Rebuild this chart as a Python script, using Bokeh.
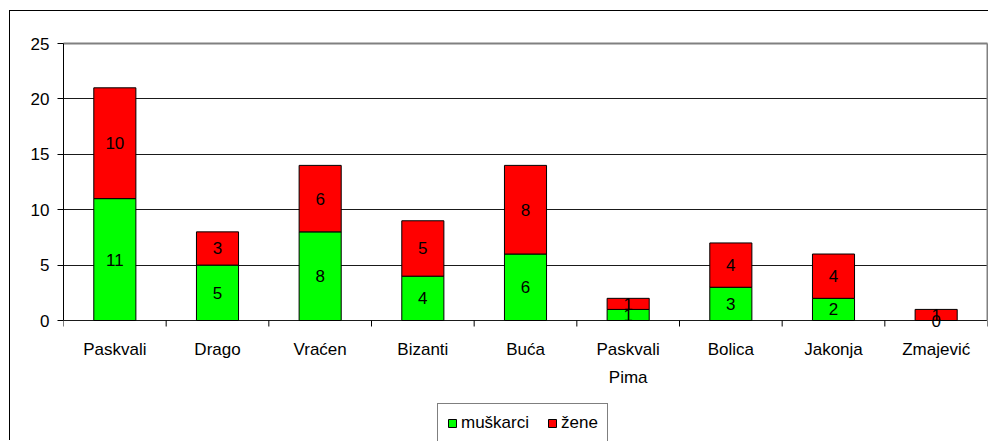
import math
from bokeh.plotting import figure
from bokeh.models import ColumnDataSource, FixedTicker, Legend, LegendItem, Range1d, LinearAxis
from bokeh.core.properties import value
from bokeh.embed import file_html
from bokeh.resources import INLINE

categories = ["Paskvali", "Drago", "Vraćen", "Bizanti", "Buća", "Paskvali\nPima", "Bolica", "Jakonja", "Zmajević"]
muskarci = [11, 5, 8, 4, 6, 1, 3, 2, 0]
zene = [10, 3, 6, 5, 8, 1, 4, 4, 1]
series_names = ["muškarci", "žene"]
y_ticks = [0, 5, 10, 15, 20, 25]

FONT = "Liberation Sans"
FS = "17px"
GREEN = "#00FF00"
RED = "#FF0000"

n = len(categories)
xs = [i + 0.5 for i in range(n)]
tops = [m + z for m, z in zip(muskarci, zene)]

src = ColumnDataSource(dict(
    x=xs, m=muskarci, z=zene, top=tops,
    m_lab=[str(v) for v in muskarci], z_lab=[str(v) for v in zene],
    m_y=[v / 2 for v in muskarci],
    z_y=[m + z / 2 for m, z in zip(muskarci, zene)],
    zero=[0] * n,
))
cat_src = ColumnDataSource(dict(x=xs, y=[0] * n, label=categories))
tick_src = ColumnDataSource(dict(x=list(range(n + 1)), y=[0] * (n + 1)))

# layout: frame top (value 25) at page y=43, value 0 at page y=320, frame bottom at page y=441
PX_PER_UNIT = (320 - 43) / 25.0
Y_BOTTOM = -(441 - 320) / PX_PER_UNIT

p = figure(width=979, height=430, x_range=Range1d(0, n), y_range=Range1d(Y_BOTTOM, 25),
           output_backend="svg", toolbar_location=None, x_axis_location=None,
           min_border_left=53, min_border_right=2, min_border_top=32, min_border_bottom=0)
p.styles = {"margin-left": "9px", "margin-top": "10px",
            "border-left": "1px solid #000", "border-top": "1px solid #000"}
p.outline_line_color = None

# grid (the line at 0 acts as the category axis line); top edge drawn by grey border axis
p.xgrid.grid_line_color = None
p.ygrid.grid_line_color = "#1a1a1a"
p.ygrid.grid_line_width = 1
p.ygrid.ticker = FixedTicker(ticks=y_ticks[:-1])

r_m = p.vbar(x="x", bottom="zero", top="m", width=0.41, source=src,
             fill_color=GREEN, line_color="black", line_width=1)
r_z = p.vbar(x="x", bottom="m", top="top", width=0.41, source=src,
             fill_color=RED, line_color="black", line_width=1)

p.text(x="x", y="m_y", text="m_lab", source=src, text_align="center", text_baseline="middle",
       text_font=value(FONT), text_font_size=FS, text_color="black")
p.text(x="x", y="z_y", text="z_lab", source=src, text_align="center", text_baseline="middle",
       text_font=value(FONT), text_font_size=FS, text_color="black")

# category axis: boundary ticks and centred labels
p.ray(x="x", y="y", source=tick_src, length=6, length_units="screen", angle=-math.pi / 2,
      line_color="black", line_width=1)
p.text(x="x", y="y", text="label", source=cat_src, text_align="center", text_baseline="top",
       y_offset=19, text_line_height=1.5,
       text_font=value(FONT), text_font_size=FS, text_color="black")

# y axis
p.yaxis.ticker = FixedTicker(ticks=y_ticks)
p.yaxis.bounds = (0, 25)
p.yaxis.axis_line_color = "black"
p.yaxis.major_tick_line_color = "black"
p.yaxis.major_tick_out = 6
p.yaxis.major_tick_in = 0
p.yaxis.minor_tick_line_color = None
p.yaxis.major_label_text_font = FONT
p.yaxis.major_label_text_font_size = FS
p.yaxis.major_label_text_color = "black"
p.yaxis.major_label_standoff = 8

# grey plot-area border on the top and right
right_ax = LinearAxis(ticker=FixedTicker(ticks=[]), bounds=(0, 25), axis_line_color="#808080",
                      axis_line_width=2,
                      major_tick_line_color=None, minor_tick_line_color=None,
                      major_label_text_font_size="0px")
p.add_layout(right_ax, "right")
top_ax = LinearAxis(ticker=FixedTicker(ticks=[]), axis_line_color="#808080",
                    axis_line_width=2,
                    major_tick_line_color=None, minor_tick_line_color=None,
                    major_label_text_font_size="0px")
p.add_layout(top_ax, "above")

legend = Legend(items=[LegendItem(label=series_names[0], renderers=[r_m]),
                       LegendItem(label=series_names[1], renderers=[r_z])],
                orientation="horizontal", location=(374, -2))
legend.border_line_color = "black"
legend.border_line_width = 1
legend.background_fill_color = "white"
legend.background_fill_alpha = 1.0
legend.label_text_font = FONT
legend.label_text_font_size = FS
legend.label_text_color = "black"
legend.glyph_width = 10
legend.glyph_height = 10
legend.label_standoff = 4
legend.spacing = 18
legend.padding = 9
legend.margin = 0
legend.label_height = 16
p.add_layout(legend, "center")

open("out.html", "w").write(file_html(p, INLINE))
